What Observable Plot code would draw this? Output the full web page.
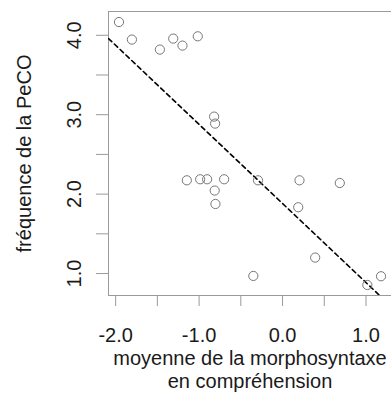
<!DOCTYPE html>
<html><head><meta charset="utf-8">
<script src="https://cdn.jsdelivr.net/npm/d3@7"></script>
<script src="https://cdn.jsdelivr.net/npm/@observablehq/plot@0.6"></script>
<style>html,body{margin:0;padding:0;background:#fff} svg{display:block}</style>
</head><body><div id="chart"></div>
<script>
// moyenne de la morphosyntaxe en compréhension (x) and fréquence de la PeCO (y)
const morpho = [-1.960, -1.805, -1.470, -1.310, -1.199, -1.016, -0.820, -0.808,
                -1.147, -0.987, -0.904, -0.700, -0.813, -0.804, -0.294, 0.203,
                 0.686,  0.188,  0.391, -0.350,  1.016,  1.180];
const peco   = [ 4.167,  3.946,  3.820,  3.958,  3.870,  3.987,  2.976,  2.888,
                 2.174,  2.187,  2.187,  2.187,  2.045,  1.876,  2.174,  2.174,
                 2.140,  1.835,  1.201,  0.970,  0.856,  0.966];
// regression line: intercept, slope
const lineCoefficients = [1.882, -0.996];
const xTickValues = [-2, -1.5, -1, -0.5, 0, 0.5, 1];
const yTickValues = [1, 1.5, 2, 2.5, 3, 3.5, 4];
const xTitle = "moyenne de la morphosyntaxe\nen compréhension";
const yTitle = "fréquence de la PeCO";

const points = morpho.map((x, i) => ({x, y: peco[i]}));
function padded(v) { const [a, b] = d3.extent(v); const p = (b - a) * 0.04; return [a - p, b + p]; }
const xDom = padded(morpho), yDom = padded(peco);
const [intercept, slope] = lineCoefficients;
const fit = xDom.map(x => ({x, y: intercept + slope * x}));

const axisColor = "#9a9a9a";
const textColor = "#1a1a1a";
const fmt = d => Number.isInteger(d) ? d.toFixed(1) : "";

const chart = Plot.plot({
  width: 391, height: 394,
  marginLeft: 108, marginRight: 0, marginTop: 11, marginBottom: 99,
  style: {fontFamily: "'Liberation Sans', Arial, sans-serif", fontSize: "20px", color: textColor, background: "#fff"},
  x: {domain: xDom},
  y: {domain: yDom},
  marks: [
    Plot.ruleY(yDom, {stroke: axisColor}),
    Plot.ruleX([xDom[0]], {stroke: axisColor}),
    Plot.axisX({ticks: xTickValues, tickFormat: fmt, tickSize: 11, tickPadding: 21, stroke: axisColor, fill: textColor, label: null}),
    Plot.axisY({ticks: yTickValues, tickFormat: fmt, tickSize: 12, tickPadding: 16, tickRotate: -90, stroke: axisColor, fill: textColor, label: null}),
    Plot.line(fit, {x: "x", y: "y", stroke: "#000", strokeWidth: 1.6, strokeDasharray: "4.5,3.5", clip: true}),
    Plot.dot(points, {x: "x", y: "y", r: 4.6, stroke: "#777", strokeWidth: 1, fill: "none"}),
    Plot.text([xTitle], {text: d => d, frameAnchor: "bottom", dy: 53, lineAnchor: "top", lineHeight: 1.165, fill: textColor, fontSize: 20}),
    Plot.text([yTitle], {text: d => d, frameAnchor: "left", rotate: -90, textAnchor: "middle", lineAnchor: "bottom", dx: -78, fill: textColor, fontSize: 20})
  ]
});
document.getElementById("chart").append(chart);
</script>
</body></html>
